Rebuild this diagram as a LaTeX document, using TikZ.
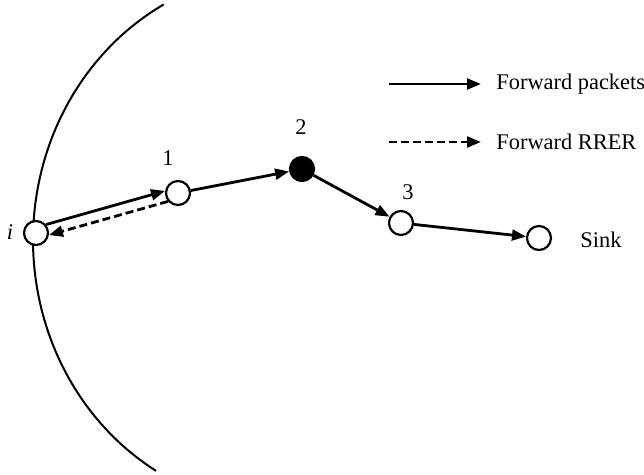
\documentclass[tikz,border=0pt]{standalone}
\usepackage{fontspec}
\setmainfont{Liberation Serif}
\usetikzlibrary{arrows.meta}
\begin{document}
\begin{tikzpicture}[x=0.5pt,y=-0.5pt,
  vert/.style={circle,draw,line width=1.1pt,minimum size=12pt,inner sep=0pt,fill=white},
  blackvert/.style={vert,fill=black},
  link/.style={line width=1.4pt,-{Triangle[length=7pt,width=5.4pt]}},
  rlink/.style={link,dash pattern=on 4pt off 2pt},
  lbl/.style={font=\fontsize{11.2}{13}\selectfont,inner sep=0pt}]
\useasboundingbox (0,0) rectangle (644,475);
% boundary arc
\draw[line width=1pt] plot[domain=120.5:241.5,samples=90] ({283+250*cos(\x)},{240+268*sin(\x)});
% nodes
\node[vert] (i) at (36,233) {};
\node[vert] (n1) at (178,193) {};
\node[blackvert] (n2) at (302,169) {};
\node[vert] (n3) at (401,223) {};
\node[vert] (sink) at (539,238) {};
% labels
\node[lbl,font=\fontsize{11.2}{13}\selectfont\itshape] (li) at (10,232) {i};
\node[lbl] (l1) at (168,158) {1};
\node[lbl] (l2) at (301,127) {2};
\node[lbl] (l3) at (408,192) {3};
\node[lbl,anchor=west] (lsink) at (580,240) {Sink};
% connectors
\draw[link] (i.40) -- (n1.171);
\draw[rlink] (n1.220) -- (i.351);
\draw[link] (n1) -- (n2);
\draw[link] (n2) -- (n3);
\draw[link] (n3) -- (sink);
% legend
\coordinate (a1) at (389,84);
\coordinate (a2) at (481,84);
\coordinate (b1) at (389,142);
\coordinate (b2) at (481,142);
\draw[link] (a1) -- (a2);
\draw[rlink] (b1) -- (b2);
\node[lbl,anchor=west] (t1) at (496,84) {Forward packets};
\node[lbl,anchor=west] (t2) at (496,142) {Forward RRER};
\end{tikzpicture}
\end{document}
